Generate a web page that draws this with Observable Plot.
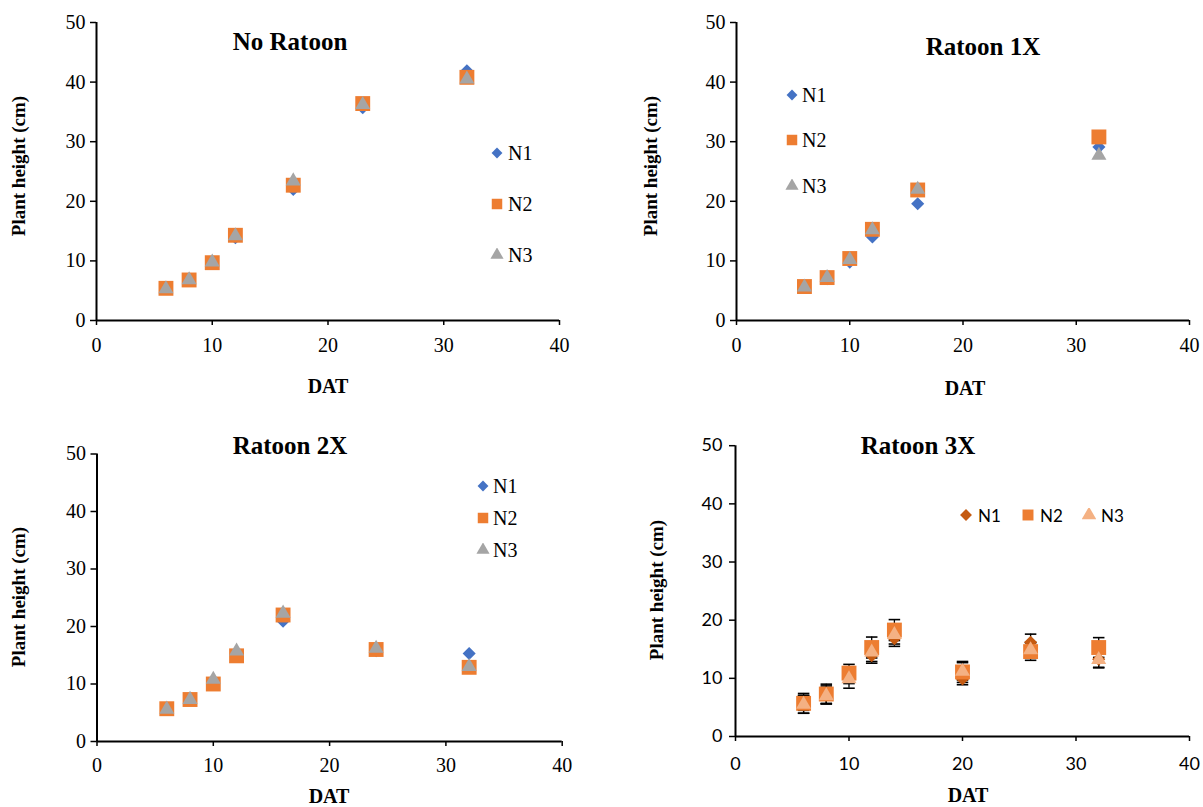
<!DOCTYPE html>
<html>
<head>
<meta charset="utf-8">
<script src="https://cdn.jsdelivr.net/npm/d3@7"></script>
<script src="https://cdn.jsdelivr.net/npm/@observablehq/plot@0.6"></script>
<style>
  html, body { margin: 0; padding: 0; background: #fff; overflow: hidden; }
  #root { position: relative; width: 1203px; height: 807px; }
  .lab { position: absolute; transform: translate(-50%, -50%); white-space: nowrap; color: #000; }
  .serifb { font-family: "Liberation Serif", "Times New Roman", serif; font-weight: bold; }
  .title { font-size: 25px; }
  .axt { font-size: 20px; }
  .ylabt { font-size: 19px; }
  .ylab { transform: translate(-50%, -50%) rotate(-90deg); }
  .leg { position: absolute; display: flex; align-items: center; color: #000; white-space: nowrap; height: 24px; }
  .leg svg { display: block; }
  .legserif { font-family: "Liberation Serif", "Times New Roman", serif; font-size: 20px; }
  .legsans { font-family: Lato, "Liberation Sans", sans-serif; font-size: 17px; }
</style>
</head>
<body>
<div id="root"></div>
<script>
// ---------- data ----------
const seriesNames = ["N1", "N2", "N3"];
const xTicks = [0, 10, 20, 30, 40];
const yTicks = [0, 10, 20, 30, 40, 50];

// No Ratoon
const dat1 = [6, 8, 10, 12, 17, 23, 32];
const noRatoonN1 = [5.4, 6.9, 9.8, 13.9, 22.0, 35.7, 41.9];
const noRatoonN2 = [5.4, 6.8, 9.7, 14.3, 22.7, 36.4, 40.8];
const noRatoonN3 = [5.3, 6.8, 9.8, 14.2, 23.4, 36.2, 40.5];

// Ratoon 1X
const dat2 = [6, 8, 10, 12, 16, 32];
const ratoon1N1 = [5.6, 7.0, 9.8, 14.0, 19.6, 29.1];
const ratoon1N2 = [5.7, 7.2, 10.4, 15.3, 21.9, 30.8];
const ratoon1N3 = [5.6, 7.2, 10.2, 15.2, 22.0, 27.7];

// Ratoon 2X
const dat3 = [6, 8, 10, 12, 16, 24, 32];
const ratoon2N1 = [5.7, 7.3, 10.2, 15.0, 20.9, 15.8, 15.3];
const ratoon2N2 = [5.7, 7.3, 10.0, 14.9, 22.0, 16.0, 12.9];
const ratoon2N3 = [5.6, 7.3, 10.8, 15.7, 22.3, 16.2, 13.0];

// Ratoon 3X (with error bars)
const dat4 = [6, 8, 10, 12, 14, 20, 26, 32];
const ratoon3N1 = [5.8, 7.2, 10.5, 13.9, 16.8, 9.9, 16.2, 13.3];
const ratoon3N2 = [5.7, 7.3, 10.9, 15.3, 18.3, 11.1, 14.6, 15.3];
const ratoon3N3 = [5.5, 7.0, 9.9, 14.5, 17.5, 11.2, 14.9, 13.2];
const ratoon3N1err = [1.3, 1.5, 1.4, 1.3, 1.3, 1.0, 1.4, 1.4];
const ratoon3N2err = [1.7, 1.7, 1.5, 1.8, 1.8, 1.8, 1.5, 1.7];
const ratoon3N3err = [1.5, 1.4, 1.6, 1.6, 1.6, 1.5, 1.3, 1.4];

// ---------- styles ----------
const colorsBlue = ["#4472C4", "#ED7D31", "#A5A5A5"];
const colorsOrange = ["#C55A11", "#ED7D31", "#F4B183"];
const symbols = ["diamond2", "square", "triangle"];
const radii = [5.9, 8.4, 5.6];
const SERIF = "Liberation Serif";
const SANS = "Lato";

function toRows(xs, arrays, errs) {
  const rows = [];
  arrays.forEach((arr, si) => {
    arr.forEach((v, i) => {
      const e = errs ? errs[si][i] : 0;
      rows.push({series: seriesNames[si], x: xs[i], y: v, lo: v - e, hi: v + e});
    });
  });
  return rows;
}

const capSymbol = {
  draw(context, size) {
    const w = Math.sqrt(size);
    context.moveTo(-w / 2, 0);
    context.lineTo(w / 2, 0);
  }
};

function makePanel(cfg) {
  const rows = toRows(cfg.xs, cfg.arrays, cfg.errs);
  const marks = [];
  if (cfg.errs) {
    marks.push(Plot.ruleX(rows, {x: "x", y1: "lo", y2: "hi", stroke: "#000", strokeWidth: 1.3}));
    marks.push(Plot.dot(rows, {x: "x", y: "hi", symbol: capSymbol, r: 6.5, stroke: "#000", strokeWidth: 1.6, fill: "none"}));
    marks.push(Plot.dot(rows, {x: "x", y: "lo", symbol: capSymbol, r: 6.5, stroke: "#000", strokeWidth: 1.6, fill: "none"}));
  }
  seriesNames.forEach((s, si) => {
    marks.push(Plot.dot(rows.filter(d => d.series === s), {
      x: "x", y: "y", symbol: symbols[si], r: radii[si], fill: cfg.colors[si], stroke: "none"
    }));
  });
  const txt = {fontFamily: cfg.font, fontSize: cfg.fontSize, fill: "#000", color: "#000"};
  marks.push(Plot.axisX({ticks: xTicks, tickSize: 5, tickPadding: cfg.xPad, strokeWidth: 1.5, label: null, tickFormat: d => String(d), ...txt}));
  marks.push(Plot.axisY({ticks: yTicks, tickSize: 6, tickPadding: cfg.yPad, strokeWidth: 1.5, label: null, tickFormat: d => String(d), ...txt}));
  marks.push(Plot.ruleY([0], {stroke: "#000", strokeWidth: 2}));
  marks.push(Plot.ruleX([0], {stroke: "#000", strokeWidth: 2}));

  const chart = Plot.plot({
    width: cfg.width, height: cfg.height,
    marginLeft: cfg.ml, marginRight: cfg.mr, marginTop: cfg.mt, marginBottom: cfg.mb,
    x: {domain: [0, 40]},
    y: {domain: [0, 50]},
    style: `font-family: ${cfg.font}; font-size: ${cfg.fontSize}px; color: #000; overflow: visible;`,
    marks
  });
  chart.style.position = "absolute";
  chart.style.left = cfg.left + "px";
  chart.style.top = cfg.top + "px";
  chart.style.maxWidth = "none";
  return chart;
}

const root = document.getElementById("root");

function addLabel(text, x, y, cls) {
  const d = document.createElement("div");
  d.className = "lab serifb " + cls;
  d.textContent = text;
  d.style.left = x + "px";
  d.style.top = y + "px";
  root.appendChild(d);
}

function markerSvg(si, color, size) {
  const ns = "http://www.w3.org/2000/svg";
  const svg = document.createElementNS(ns, "svg");
  svg.setAttribute("width", 14);
  svg.setAttribute("height", 14);
  const p = document.createElementNS(ns, "path");
  const sym = [d3.symbolDiamond2, d3.symbolSquare, d3.symbolTriangle][si];
  p.setAttribute("d", d3.symbol(sym, size[si])());
  p.setAttribute("transform", "translate(7,7)");
  p.setAttribute("fill", color);
  svg.appendChild(p);
  return svg;
}

function addLegendItem(si, color, x, y, cls, sizes, gap) {
  const d = document.createElement("div");
  d.className = "leg " + cls;
  d.style.left = (x - 7) + "px";
  d.style.top = (y - 12) + "px";
  d.appendChild(markerSvg(si, color, sizes));
  const t = document.createElement("span");
  t.textContent = seriesNames[si];
  t.style.marginLeft = gap + "px";
  d.appendChild(t);
  root.appendChild(d);
}

root.appendChild(makePanel({
  xs: dat1, arrays: [noRatoonN1, noRatoonN2, noRatoonN3], colors: colorsBlue, font: SERIF, fontSize: 20,
  left: 0, top: 0, width: 600, height: 400, ml: 96, mr: 41, mt: 22, mb: 80,
  xPad: 12.5, yPad: 5
}));
root.appendChild(makePanel({
  xs: dat2, arrays: [ratoon1N1, ratoon1N2, ratoon1N3], colors: colorsBlue, font: SERIF, fontSize: 20,
  left: 640, top: 0, width: 563, height: 400, ml: 96, mr: 14, mt: 22, mb: 80,
  xPad: 12.5, yPad: 5
}));
root.appendChild(makePanel({
  xs: dat3, arrays: [ratoon2N1, ratoon2N2, ratoon2N3], colors: colorsBlue, font: SERIF, fontSize: 20,
  left: 0, top: 420, width: 600, height: 387, ml: 96.5, mr: 38.3, mt: 33.5, mb: 66,
  xPad: 11.5, yPad: 5
}));
root.appendChild(makePanel({
  xs: dat4, arrays: [ratoon3N1, ratoon3N2, ratoon3N3], errs: [ratoon3N1err, ratoon3N2err, ratoon3N3err],
  colors: colorsOrange, font: SANS, fontSize: 18,
  left: 640, top: 420, width: 563, height: 387, ml: 95, mr: 14, mt: 25.2, mb: 71,
  xPad: 16, yPad: 7
}));

addLabel("No Ratoon", 290, 42, "title");
addLabel("Ratoon 1X", 983, 47, "title");
addLabel("Ratoon 2X", 290, 446, "title");
addLabel("Ratoon 3X", 918, 446, "title");

addLabel("DAT", 328, 386, "axt");
addLabel("DAT", 965, 388, "axt");
addLabel("DAT", 329, 796, "axt");
addLabel("DAT", 968, 795, "axt");
addLabel("Plant height (cm)", 19, 166, "ylabt ylab");
addLabel("Plant height (cm)", 651, 166, "ylabt ylab");
addLabel("Plant height (cm)", 19, 597, "ylabt ylab");
addLabel("Plant height (cm)", 657, 590, "ylabt ylab");

const legSizes = [75, 110, 75];
[[497, 153], [497, 204], [497, 255]].forEach((p, i) => addLegendItem(i, colorsBlue[i], p[0], p[1], "legserif", legSizes, 4));
[[792, 95], [792, 140], [792, 186]].forEach((p, i) => addLegendItem(i, colorsBlue[i], p[0], p[1], "legserif", legSizes, 3));
[[483, 486], [483, 518], [483, 550]].forEach((p, i) => addLegendItem(i, colorsBlue[i], p[0], p[1], "legserif", legSizes, 3));
[[966, 515], [1028, 515], [1089, 515]].forEach((p, i) => addLegendItem(i, colorsOrange[i], p[0], p[1], "legsans", [90, 120, 90], 5));
</script>
</body>
</html>
